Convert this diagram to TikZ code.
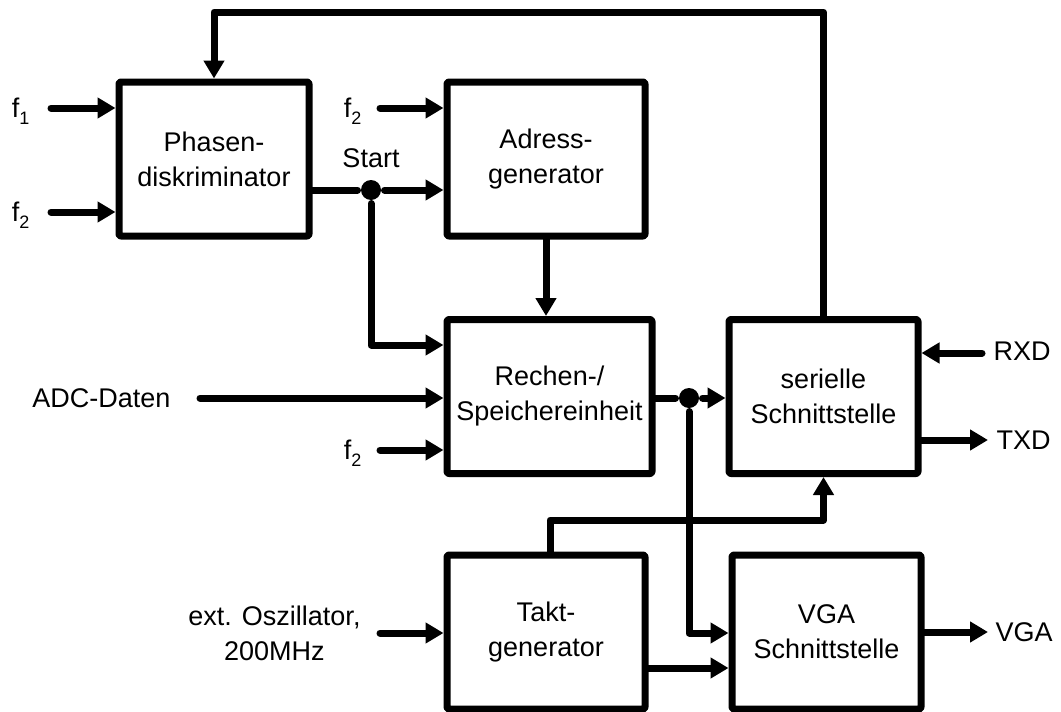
\documentclass[tikz,border=0pt]{standalone}
\usepackage{fontspec}
\setmainfont{Liberation Sans}
\usetikzlibrary{positioning,arrows.meta,calc}

\newcommand{\fidx}[1]{f\raisebox{-7pt}{\fontsize{18}{18}\selectfont #1}}

\begin{document}
\begin{tikzpicture}[
  x=1pt, y=-1pt,
  blk/.style={rectangle, draw, line width=7pt, rounded corners=2pt,
              minimum width=198pt, minimum height=154pt, align=center,
              font=\fontsize{27}{35}\selectfont},
  sig/.style={inner sep=0pt, align=center, font=\fontsize{27}{35}\selectfont},
  flab/.style={sig, text depth=0pt},
  dot/.style={circle, fill, inner sep=0pt, minimum size=20pt},
  >={Triangle[length=18pt,width=20pt]}, line width=7pt,
  line cap=round, line join=round
]
  \useasboundingbox (0,0) rectangle (1061,712);

  % blocks
  \node[blk, minimum width=190pt] (phasen) at (214,159) {Phasen-\\diskriminator};
  \node[blk] (adress) at (546,159) {Adress-\\generator};
  \node[blk, minimum width=205pt] (rechen) at (549.5,396.5) {Rechen-/\\Speichereinheit};
  \node[blk, minimum width=189pt] (seriell) at (823.5,396.5) {serielle\\Schnittstelle};
  \node[blk] (takt) at (546,632) {Takt-\\generator};
  \node[blk, minimum width=189pt] (vga) at (826.5,632) {VGA\\Schnittstelle};

  % junctions
  \node[dot] (j1) at (371,190) {};
  \node[dot] (j2) at (689,398) {};
  \node[sig, above=5pt of j1] (start) {Start};

  % free ends and levels
  \coordinate (f1in) at (51,108);
  \coordinate (f2in) at (51,212);
  \coordinate (f2adr) at (380,108);
  \coordinate (adcin) at (200,398);
  \coordinate (f2rech) at (380,450);
  \coordinate (oscin) at (380,633);
  \coordinate (rxdin) at (982,353);
  \coordinate (txdout) at (988,440);
  \coordinate (vgaout) at (988,632);
  \coordinate (fbtop) at (0,12);
  \coordinate (startlvl) at (0,345);
  \coordinate (clklvl) at (0,520);
  \coordinate (vgalvl) at (0,633);
  \coordinate (tvlvl) at (0,668);

  % signal labels
  \node[flab, left=18pt of f1in] (f1) {\fidx{1}};
  \node[flab, left=18pt of f2in] (f2a) {\fidx{2}};
  \node[flab, left=15pt of f2adr] (f2b) {\fidx{2}};
  \node[sig, left=26pt of adcin] (adc) {ADC-Daten};
  \node[flab, left=15pt of f2rech] (f2c) {\fidx{2}};
  \node[sig, left=16pt of oscin] (osc) {ext. Oszillator,\\200MHz};
  \node[sig, right=8pt of rxdin, yshift=2pt] (rxd) {RXD};
  \node[sig, right=5pt of txdout] (txd) {TXD};
  \node[sig, right=4pt of vgaout] (vgal) {VGA};

  % connectors
  \draw[->] (f1in) -- (f1in -| phasen.west);
  \draw[->] (f2in) -- (f2in -| phasen.west);
  \draw[->] (f2adr) -- (f2adr -| adress.west);
  \draw (phasen.east |- j1) -- (j1);
  \draw[->] (j1) -- (j1 -| adress.west);
  \draw[->] (j1) -- (j1 |- startlvl) -- (startlvl -| rechen.west);
  \draw[->] (adress.south) -- (adress.south |- rechen.north);
  \draw[->] (adcin) -- (adcin -| rechen.west);
  \draw[->] (f2rech) -- (f2rech -| rechen.west);
  \draw (rechen.east |- j2) -- (j2);
  \draw[->] (j2) -- (j2 -| seriell.west);
  \draw[->] (j2) -- (j2 |- vgalvl) -- (vgalvl -| vga.west);
  \draw[->] (seriell.north) -- (seriell.north |- fbtop) -| (phasen.north);
  \draw[->] (rxdin) -- (rxdin -| seriell.east);
  \draw[->] (seriell.east |- txdout) -- (txdout);
  \draw[->] (oscin) -- (oscin -| takt.west);
  \draw[->] ([xshift=4pt]takt.north) -- ([xshift=4pt]takt.north |- clklvl)
            -| (seriell.south);
  \draw[->] (takt.east |- tvlvl) -- (tvlvl -| vga.west);
  \draw[->] (vga.east |- vgaout) -- (vgaout);
\end{tikzpicture}
\end{document}
